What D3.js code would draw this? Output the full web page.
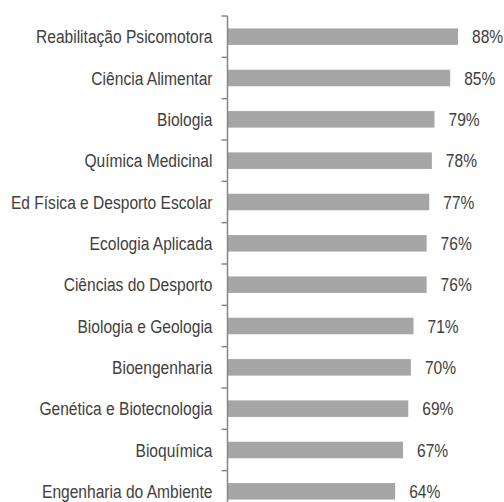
<!DOCTYPE html>
<html>
<head>
<meta charset="utf-8">
<script src="https://cdn.jsdelivr.net/npm/d3@7"></script>
<style>
  html, body { margin: 0; padding: 0; background: #fff; }
  svg { display: block; }
  text { font-family: "Liberation Sans", Arial, sans-serif; fill: #404040; }
</style>
</head>
<body>
<svg id="chart" width="504" height="502"></svg>
<script>
const courses = [
  'Reabilitação Psicomotora',
  'Ciência Alimentar',
  'Biologia',
  'Química Medicinal',
  'Ed Física e Desporto Escolar',
  'Ecologia Aplicada',
  'Ciências do Desporto',
  'Biologia e Geologia',
  'Bioengenharia',
  'Genética e Biotecnologia',
  'Bioquímica',
  'Engenharia do Ambiente'
];
const values = [88, 85, 79, 78, 77, 76, 76, 71, 70, 69, 67, 64];

const axisX = 227.5;
const plotTop = 16;
const plotBottom = 512;
const squeeze = 0.82;
const fontSize = 19;

const svg = d3.select('#chart');

const x = d3.scaleLinear()
  .domain([0, 100])
  .range([axisX, axisX + 262]);

const y = d3.scaleBand()
  .domain(courses)
  .range([plotTop, plotBottom])
  .paddingInner(0.6)
  .paddingOuter(0.3);

const step = y.step();

// bars
svg.append('g')
  .selectAll('rect')
  .data(values)
  .enter()
  .append('rect')
  .attr('x', x(0))
  .attr('y', (_, i) => y(courses[i]))
  .attr('width', d => x(d) - x(0))
  .attr('height', y.bandwidth())
  .attr('fill', '#a6a6a6');

// value labels
svg.append('g')
  .selectAll('text')
  .data(values)
  .enter()
  .append('text')
  .attr('transform', (d, i) => `translate(${x(d) + 14}, ${y(courses[i]) + y.bandwidth() / 2}) scale(${squeeze}, 1)`)
  .attr('dy', '0.35em')
  .style('font-size', fontSize + 'px')
  .text(d => d + '%');

// category axis (labels only)
const yAxis = d3.axisLeft(y).tickSize(0).tickPadding(0);
const gy = svg.append('g')
  .attr('transform', `translate(${axisX}, 0)`)
  .call(yAxis);
gy.select('.domain').remove();
gy.selectAll('.tick text')
  .attr('x', null)
  .attr('dy', '0.35em')
  .attr('transform', `translate(-15, 0) scale(${squeeze}, 1)`)
  .style('font-size', fontSize + 'px')
  .style('font-family', '"Liberation Sans", Arial, sans-serif')
  .attr('fill', '#404040');

// axis line and boundary ticks
const bounds = courses.map(c => y(c) - y.paddingInner() * step / 2).concat([plotBottom]);
const axisG = svg.append('g').attr('stroke', '#868686').attr('stroke-width', 1.5);
axisG.append('line')
  .attr('x1', axisX).attr('x2', axisX)
  .attr('y1', plotTop).attr('y2', plotBottom);
axisG.selectAll('line.tk')
  .data(bounds)
  .enter()
  .append('line')
  .attr('class', 'tk')
  .attr('x1', axisX - 6).attr('x2', axisX)
  .attr('y1', d => d).attr('y2', d => d);
</script>
</body>
</html>
